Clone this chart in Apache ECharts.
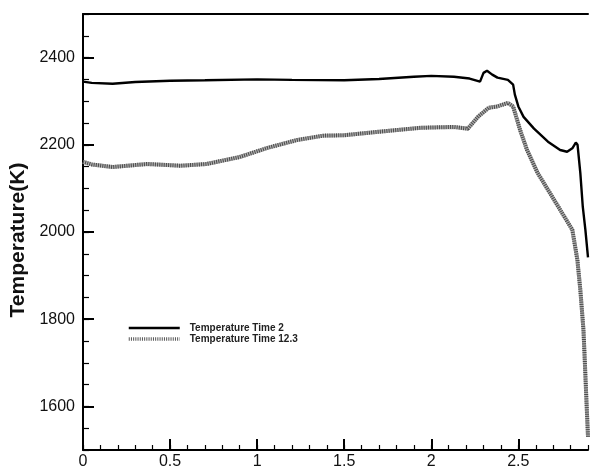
<!DOCTYPE html>
<html>
<head>
<meta charset="utf-8">
<script src="https://cdn.jsdelivr.net/npm/echarts@6/dist/echarts.min.js"></script>
<style>
  html, body { margin: 0; padding: 0; background: #fff; }
  #main { width: 590px; height: 468px; }
</style>
</head>
<body>
<div id="main"></div>
<script>
// values: [x, temperature(K)]
var seriesNames = ['Temperature Time 2', 'Temperature Time 12.3']
var tempTime2 = [
  [0, 2345], [0.05, 2342], [0.17, 2340], [0.3, 2344], [0.5, 2347], [0.7, 2348],
  [1.0, 2350], [1.2, 2349], [1.5, 2348], [1.7, 2351], [1.9, 2356], [2.0, 2358],
  [2.13, 2356], [2.22, 2352], [2.28, 2345], [2.3, 2365], [2.32, 2370], [2.35, 2361],
  [2.38, 2354], [2.44, 2349], [2.47, 2338], [2.48, 2315], [2.5, 2288], [2.53, 2264],
  [2.59, 2237], [2.67, 2207], [2.74, 2188], [2.78, 2184], [2.81, 2192], [2.83, 2205],
  [2.84, 2200], [2.856, 2135], [2.87, 2058], [2.885, 2005], [2.9, 1942]
]
var tempTime12 = [
  [0, 2161], [0.05, 2155], [0.17, 2149], [0.37, 2156], [0.56, 2152], [0.71, 2156],
  [0.9, 2172], [1.06, 2193], [1.23, 2211], [1.38, 2221], [1.5, 2222], [1.7, 2230],
  [1.94, 2239], [2.13, 2241], [2.21, 2237], [2.27, 2265], [2.33, 2285], [2.38, 2288],
  [2.44, 2296], [2.47, 2288], [2.51, 2234], [2.55, 2188], [2.61, 2136], [2.67, 2097],
  [2.74, 2051], [2.81, 2005], [2.839, 1936], [2.856, 1867], [2.874, 1775], [2.879, 1729],
  [2.891, 1614], [2.9, 1530]
]
var xTicks = [0, 0.5, 1, 1.5, 2, 2.5]
var yTicks = [1600, 1800, 2000, 2200, 2400]

var font = 'Liberation Sans, Arial, sans-serif'
var chart = echarts.init(document.getElementById('main'))

var option = {
  animation: false,
  grid: {
    left: 83,
    right: 2,
    top: 14,
    bottom: 18,
    containLabel: false,
    outerBoundsMode: 'none'
  },
  legend: {
    data: [
      { name: seriesNames[0], lineStyle: { width: 2.6 } },
      { name: seriesNames[1], lineStyle: { width: 3.5, color: '#555' } }
    ],
    orient: 'vertical',
    left: 122,
    top: 318,
    itemWidth: 51,
    itemHeight: 10,
    itemGap: 1,
    itemStyle: { opacity: 0 },
    textStyle: {
      fontFamily: font,
      fontWeight: 'bold',
      fontSize: 10,
      lineHeight: 10,
      color: '#222',
      padding: [0, 0, 0, 5]
    }
  },
  xAxis: [
    {
      type: 'value',
      min: 0,
      max: 2.9,
      position: 'bottom',
      splitLine: { show: false },
      axisLine: { onZero: false, lineStyle: { color: '#000', width: 2 } },
      axisTick: { inside: true, length: 11, customValues: xTicks, lineStyle: { color: '#000', width: 2 } },
      axisLabel: { customValues: xTicks, margin: 4, color: '#111', fontSize: 16, fontFamily: font, formatter: function (v) { return String(v) } }
    },
    {
      // minor ticks
      type: 'value',
      min: 0,
      max: 2.9,
      interval: 0.1,
      position: 'bottom',
      splitLine: { show: false },
      axisLine: { show: false },
      axisTick: { inside: true, length: 5, lineStyle: { color: '#000', width: 1.2 } },
      axisLabel: { show: false }
    },
    {
      // top frame line
      type: 'value',
      min: 0,
      max: 2.9,
      position: 'top',
      splitLine: { show: false },
      axisLine: { onZero: false, lineStyle: { color: '#000', width: 2 } },
      axisTick: { show: false },
      axisLabel: { show: false }
    }
  ],
  yAxis: [
    {
      type: 'value',
      min: 1500,
      max: 2500,
      name: 'Temperature(K)',
      nameLocation: 'middle',
      nameRotate: 90,
      nameGap: 27,
      nameTextStyle: { fontFamily: font, fontWeight: 'bold', fontSize: 21, color: '#111', padding: [0, 16, 0, 0] },
      splitLine: { show: false },
      axisLine: { onZero: false, lineStyle: { color: '#000', width: 2 } },
      axisTick: { inside: true, length: 11, customValues: yTicks, lineStyle: { color: '#000', width: 2 } },
      axisLabel: { customValues: yTicks, margin: 8, color: '#111', fontSize: 16, fontFamily: font, formatter: function (v) { return String(v) } }
    },
    {
      // minor ticks
      type: 'value',
      min: 1500,
      max: 2500,
      interval: 50,
      position: 'left',
      splitLine: { show: false },
      axisLine: { show: false },
      axisTick: { inside: true, length: 6, lineStyle: { color: '#000', width: 1.2 } },
      axisLabel: { show: false }
    }
  ],
  series: [
    {
      name: seriesNames[0],
      type: 'line',
      data: tempTime2,
      symbol: 'none',
      z: 4,
      lineStyle: { color: '#000', width: 2.4 },
      itemStyle: { color: '#000' }
    },
    {
      // light under-stroke of the hatched line
      type: 'line',
      data: tempTime12,
      symbol: 'none',
      z: 2,
      lineStyle: { color: '#b0b0b0', width: 4 }
    },
    {
      name: seriesNames[1],
      type: 'line',
      data: tempTime12,
      symbol: 'none',
      z: 3,
      lineStyle: { color: '#4a4a4a', width: 4, type: [1, 1.2] },
      itemStyle: { color: '#777' }
    }
  ]
}

chart.setOption(option)
</script>
</body>
</html>
